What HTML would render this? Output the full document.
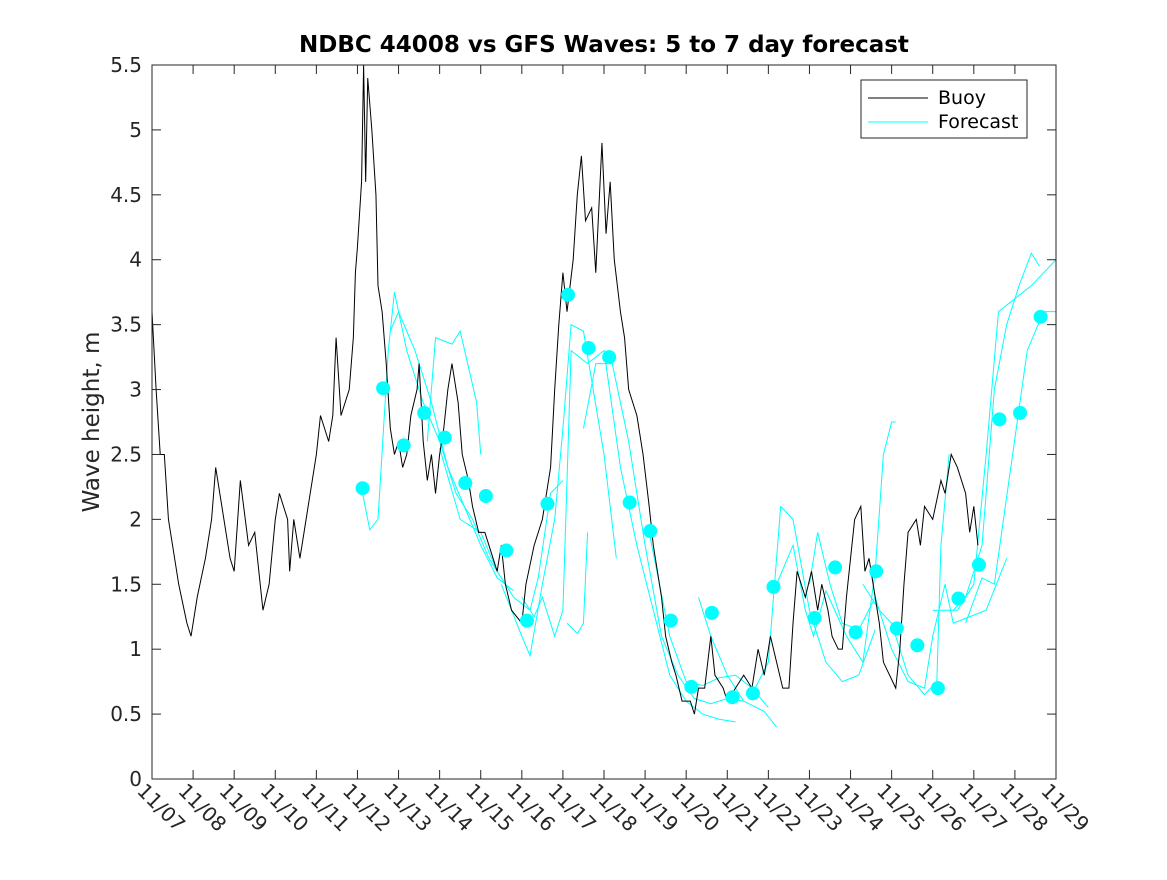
<!DOCTYPE html>
<html><head><meta charset="utf-8">
<style>
body{margin:0;background:#fff;}
svg{font-family:"DejaVu Sans","Liberation Sans",sans-serif;}
</style></head>
<body>
<svg id="chart" width="1167" height="875" viewBox="0 0 1167 875" xmlns="http://www.w3.org/2000/svg">
<rect x="0" y="0" width="1167" height="875" fill="#fff"/>
<text x="604" y="52" text-anchor="middle" font-size="23" font-weight="bold" fill="#000">NDBC 44008 vs GFS Waves: 5 to 7 day forecast</text>
<text transform="translate(99,422) rotate(-90)" text-anchor="middle" font-size="23" fill="#262626">Wave height, m</text>
<g id="plot"></g>
<rect x="152" y="65" width="904" height="714" fill="none" stroke="#262626" stroke-width="1"/>
<g id="ticks"></g>
<g>
<rect x="861" y="80" width="166" height="58" fill="#fff" stroke="#262626"/>
<line x1="868" y1="98" x2="928" y2="98" stroke="#000"/>
<text x="938" y="104" font-size="19" fill="#000">Buoy</text>
<line x1="868" y1="122" x2="928" y2="122" stroke="#00ffff"/>
<text x="938" y="128" font-size="19" fill="#000">Forecast</text>
</g>
</svg>
<script>
const xTickLabels=["11/07","11/08","11/09","11/10","11/11","11/12","11/13","11/14","11/15","11/16","11/17","11/18","11/19","11/20","11/21","11/22","11/23","11/24","11/25","11/26","11/27","11/28","11/29"];
const yTicks=[0,0.5,1,1.5,2,2.5,3,3.5,4,4.5,5,5.5];
const buoyDays=[0,0.1,0.2,0.3,0.4,0.55,0.65,0.85,0.95,1.1,1.3,1.45,1.55,1.7,1.9,2.0,2.15,2.35,2.5,2.6,2.7,2.85,3.0,3.1,3.3,3.35,3.45,3.6,3.75,3.9,4.0,4.1,4.3,4.4,4.48,4.6,4.8,4.9,4.95,5.0,5.1,5.15,5.2,5.25,5.35,5.45,5.5,5.6,5.7,5.8,5.9,6.0,6.1,6.2,6.3,6.45,6.5,6.6,6.7,6.8,6.9,7.0,7.1,7.2,7.3,7.45,7.55,7.7,7.8,7.95,8.1,8.2,8.4,8.5,8.6,8.75,9.0,9.1,9.3,9.5,9.6,9.7,9.8,9.9,10.0,10.1,10.25,10.35,10.45,10.55,10.7,10.8,10.95,11.05,11.15,11.25,11.4,11.5,11.6,11.8,11.95,12.1,12.2,12.3,12.4,12.5,12.65,12.75,12.9,13.1,13.2,13.3,13.45,13.6,13.7,13.9,14.0,14.2,14.4,14.6,14.75,14.9,15.05,15.2,15.35,15.5,15.6,15.7,15.9,16.05,16.2,16.3,16.45,16.55,16.7,16.8,16.9,17.0,17.1,17.25,17.35,17.45,17.6,17.7,17.8,17.95,18.1,18.2,18.3,18.4,18.6,18.7,18.8,19.0,19.2,19.3,19.45,19.6,19.8,19.9,20.0,20.1];
const buoyHeights=[3.6,3.0,2.5,2.5,2.0,1.7,1.5,1.2,1.1,1.4,1.7,2.0,2.4,2.1,1.7,1.6,2.3,1.8,1.9,1.6,1.3,1.5,2.0,2.2,2.0,1.6,2.0,1.7,2.0,2.3,2.5,2.8,2.6,2.8,3.4,2.8,3.0,3.4,3.9,4.1,4.6,5.5,4.6,5.4,5.0,4.5,3.8,3.6,3.2,2.7,2.5,2.6,2.4,2.5,2.8,3.0,3.2,2.6,2.3,2.5,2.2,2.5,2.7,3.0,3.2,2.9,2.5,2.3,2.1,1.9,1.9,1.8,1.6,1.8,1.5,1.3,1.2,1.5,1.8,2.0,2.2,2.4,3.0,3.5,3.9,3.6,4.0,4.5,4.8,4.3,4.4,3.9,4.9,4.2,4.6,4.0,3.6,3.4,3.0,2.8,2.5,2.1,1.8,1.6,1.4,1.1,0.9,0.8,0.6,0.6,0.5,0.7,0.7,1.1,0.8,0.7,0.6,0.7,0.8,0.7,1.0,0.8,1.1,0.9,0.7,0.7,1.2,1.6,1.4,1.6,1.3,1.5,1.3,1.1,1.0,1.0,1.4,1.7,2.0,2.1,1.6,1.7,1.4,1.2,0.9,0.8,0.7,1.0,1.5,1.9,2.0,1.8,2.1,2.0,2.3,2.2,2.5,2.4,2.2,1.9,2.1,1.8];
const fcA=[[5.1,2.24],[5.3,1.92],[5.5,2.0],[5.75,3.3],[5.9,3.75],[6.2,3.3],[6.6,2.9],[7.0,2.6],[7.4,2.2],[7.8,2.0],[8.2,1.7],[8.6,1.5]];
const fcB=[[5.8,3.45],[6.0,3.6],[6.4,3.3],[6.8,2.9],[7.2,2.4],[7.6,2.1],[8.0,1.8],[8.4,1.55],[8.8,1.45]];
const fcC=[[6.7,2.6],[6.9,3.4],[7.3,3.35],[7.5,3.45],[7.9,2.9],[8.0,2.5]];
const fcD=[[7.0,2.55],[7.5,2.0],[8.0,1.9],[8.4,1.6],[8.8,1.4],[9.2,1.3],[9.4,1.55],[9.7,2.2],[10.0,2.3]];
const fcE=[[8.5,1.5],[9.0,1.1],[9.2,0.95],[9.5,1.5],[9.8,2.0],[10.0,2.7],[10.2,3.5],[10.5,3.45],[11.0,2.5],[11.3,1.7]];
const fcF=[[9.0,1.4],[9.3,1.25],[9.5,1.4],[9.8,1.1],[10.0,1.3],[10.2,3.3],[10.6,3.2],[11.0,3.3],[11.4,2.4],[11.8,1.8],[12.2,1.3],[12.6,0.8],[13.0,0.6],[13.4,0.5],[13.8,0.46],[14.2,0.44]];
const fcG=[[10.1,1.2],[10.35,1.12],[10.5,1.2],[10.6,1.9]];
const fcH=[[10.5,2.7],[10.8,3.2],[11.2,3.2],[11.6,2.6],[12.0,1.8],[12.4,1.1],[12.8,0.8],[13.2,0.62],[13.6,0.58],[14.0,0.62],[14.4,0.6]];
const fcI=[[12.1,1.9],[12.6,1.1],[13.0,0.75],[13.4,0.72],[13.8,0.78],[14.2,0.8],[14.6,0.7],[15.0,0.55]];
const fcJ=[[13.3,1.4],[13.6,1.1],[14.0,0.8],[14.4,0.6],[14.9,0.52],[15.2,0.4]];
const fcK=[[14.6,0.65],[15.0,0.9],[15.3,2.1],[15.6,2.0],[16.0,1.3],[16.4,0.9],[16.8,0.75],[17.2,0.8],[17.6,1.15]];
const fcL=[[15.2,1.5],[15.6,1.8],[15.9,1.3],[16.1,1.1],[16.4,1.45],[16.9,1.1],[17.3,0.9],[17.6,1.6],[17.8,2.5],[18.0,2.75],[18.1,2.75]];
const fcM=[[16.0,1.5],[16.2,1.9],[16.5,1.5],[16.8,1.2],[17.2,1.15],[17.6,1.4],[18.0,1.0],[18.4,0.75],[18.8,0.7],[19.0,1.1],[19.3,1.5],[19.5,1.2],[19.9,1.25],[20.3,1.3],[20.8,1.7]];
const fcN=[[17.3,1.5],[17.7,1.3],[18.0,1.2],[18.4,0.8],[18.8,0.65],[19.1,0.75],[19.2,1.8],[19.4,2.5]];
const fcO=[[19.5,1.3],[19.8,1.4],[20.2,1.8],[20.5,3.0],[20.8,3.5],[21.1,3.8],[21.4,4.05],[21.6,3.95]];
const fcP=[[19.0,1.3],[19.6,1.3],[20.0,1.5],[20.3,2.5],[20.6,3.6],[21.0,3.7],[21.4,3.8],[22.0,4.0]];
const fcQ=[[19.8,1.2],[20.2,1.55],[20.5,1.5],[20.9,2.4],[21.3,3.3],[21.7,3.6],[22.0,3.6]];
const dotDays=[5.125,5.625,6.125,6.625,7.125,7.625,8.125,8.625,9.125,9.625,10.125,10.625,11.125,11.625,12.125,12.625,13.125,13.625,14.125,14.625,15.125,16.125,16.625,17.125,17.625,18.125,18.625,19.125,19.625,20.125,20.625,21.125,21.625];
const dotHeights=[2.24,3.01,2.57,2.82,2.63,2.28,2.18,1.76,1.22,2.12,3.73,3.32,3.25,2.13,1.91,1.22,0.71,1.28,0.63,0.66,1.48,1.24,1.63,1.13,1.60,1.16,1.03,0.70,1.39,1.65,2.77,2.82,3.56];

const NS="http://www.w3.org/2000/svg";
const X0=152,X1=1056,Y0=779,Y1=65;
function xs(d){return X0+(X1-X0)*d/22;}
function ys(v){return Y0-(Y0-Y1)*v/5.5;}
function mk(t,attrs,parent){const e=document.createElementNS(NS,t);for(const k in attrs)e.setAttribute(k,attrs[k]);parent.appendChild(e);return e;}
const plot=document.getElementById('plot');
const ticks=document.getElementById('ticks');
const clip=mk('clipPath',{id:'pc'},document.querySelector('svg'));
mk('rect',{x:X0,y:Y1,width:X1-X0,height:Y0-Y1},clip);
plot.setAttribute('clip-path','url(#pc)');

const fcs=[fcA,fcB,fcC,fcD,fcE,fcF,fcG,fcH,fcI,fcJ,fcK,fcL,fcM,fcN,fcO,fcP,fcQ];
fcs.forEach((s,i)=>{
 const p=mk('polyline',{points:s.map(q=>xs(q[0])+','+ys(q[1])).join(' '),fill:'none',stroke:'#00ffff','stroke-width':1},plot);
 
 
});
const bl=mk('polyline',{points:buoyDays.map((d,i)=>xs(d)+','+ys(buoyHeights[i])).join(' '),fill:'none',stroke:'#000','stroke-width':1},plot);


dotDays.forEach((d,i)=>{
 const c=mk('circle',{cx:xs(d),cy:ys(dotHeights[i]),r:7,fill:'#00ffff'},plot);
 
 
});

yTicks.forEach(v=>{
 const y=ys(v);
 mk('line',{x1:X0,y1:y,x2:X0+9,y2:y,stroke:'#262626'},ticks);
 mk('line',{x1:X1,y1:y,x2:X1-9,y2:y,stroke:'#262626'},ticks);
 const t=mk('text',{x:X0-10,y:y+7,'text-anchor':'end','font-size':20,fill:'#262626'},ticks);
 t.textContent=String(v);
 
 
});
xTickLabels.forEach((l,i)=>{
 const x=xs(i);
 mk('line',{x1:x,y1:Y0,x2:x,y2:Y0-9,stroke:'#262626'},ticks);
 mk('line',{x1:x,y1:Y1,x2:x,y2:Y1+9,stroke:'#262626'},ticks);
 const t=mk('text',{x:0,y:0,transform:'translate('+(x-16)+','+(Y0+13)+') rotate(45)','font-size':20,fill:'#262626'},ticks);
 t.textContent=l;
 
 
});
</script>
</body></html>
